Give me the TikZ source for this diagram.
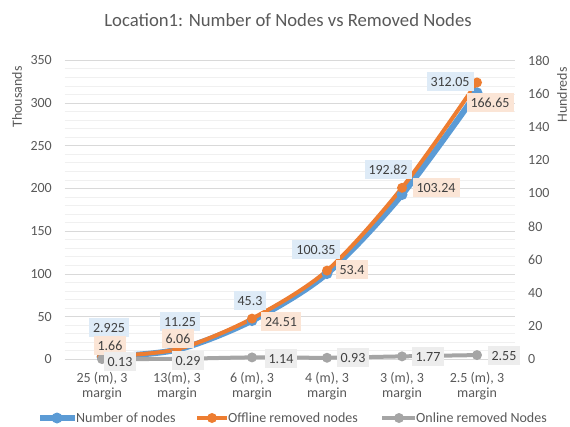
\documentclass[tikz,border=0pt]{standalone}
\usepackage{fontspec}
\setmainfont{Carlito}
\definecolor{serB}{HTML}{5B9BD5}
\definecolor{serO}{HTML}{ED7D31}
\definecolor{serG}{HTML}{A5A5A5}
\definecolor{bgB}{HTML}{DEEBF7}
\definecolor{bgO}{HTML}{FBE5D6}
\definecolor{bgG}{HTML}{EDEDED}
\definecolor{txt}{HTML}{595959}
\definecolor{txtd}{HTML}{404040}
\definecolor{gmaj}{HTML}{D9D9D9}
\definecolor{gmin}{HTML}{F0F0F0}
\tikzset{
  lab/.style={font=\fontsize{14bp}{16bp}\selectfont, text=txtd, inner xsep=4bp, inner ysep=4.5bp, text height=10bp, text depth=0bp},
  labB/.style={lab, fill=bgB},
  labO/.style={lab, fill=bgO},
  labG/.style={lab, fill=bgG},
  tick/.style={font=\fontsize{14bp}{16bp}\selectfont, text=txt, inner sep=0bp},
  mkB/.style={circle, fill=serB, inner sep=0bp, minimum size=11bp},
  mkO/.style={circle, fill=serO, inner sep=0bp, minimum size=10bp},
  mkG/.style={circle, fill=serG, inner sep=0bp, minimum size=10bp},
}
\begin{document}
\begin{tikzpicture}[x=1bp, y=-1bp,
  declare function={yl(\v)=359.3-0.8543*\v; yr(\v)=359.3-1.6611*\v;}]
\useasboundingbox (0,0) rectangle (570,426);
% minor gridlines
\foreach \v in {10,20,...,340} {
  \draw[gmin, line width=0.75bp] (64.5,{yl(\v)}) -- (514.5,{yl(\v)});
}
% major gridlines
\foreach \v in {50,100,...,350} {
  \draw[gmaj, line width=0.75bp] (64.5,{yl(\v)}) -- (514.5,{yl(\v)});
}
\draw[gmaj, line width=1bp] (64.5,{yl(0)}) -- (514.5,{yl(0)});
% left ticks
\foreach \v in {0,50,...,350} {
  \node[tick, anchor=east] (tl\v) at (52,{yl(\v)}) {\v};
}
% right ticks
\foreach \v in {0,20,...,180} {
  \node[tick, anchor=west] (tr\v) at (528,{yr(\v)}) {\v};
}
% axis titles
\node[tick, rotate=90] (tTh) at (17,97) {Thousands};
\node[tick, rotate=90] (tHu) at (562,95) {Hundreds};
% title
\node[font=\fontsize{18.7bp}{20bp}\selectfont, text=txt, anchor=base] (title) at (288,26) {Location1: Number of Nodes vs Removed Nodes};
% categories
\foreach \i/\c in {0/25 (m){,} 3, 1/13(m){,} 3, 2/6 (m){,} 3, 3/4 (m){,} 3, 4/3 (m){,} 3, 5/2.5 (m){,} 3} {
  \node[tick, anchor=base] (c\i) at ({102+75*\i},382.5) {\c};
  \node[tick, anchor=base] (m\i) at ({102+75*\i},397.5) {margin};
}
% data coordinates
\foreach \i/\b/\o/\g in {0/2.925/1.66/0.13, 1/11.25/6.06/0.29, 2/45.3/24.51/1.14, 3/100.35/53.4/0.93, 4/192.82/103.24/1.77, 5/312.05/166.65/2.55} {
  \coordinate (b\i) at ({102+75*\i},{yl(\b)});
  \coordinate (o\i) at ({102+75*\i},{yr(\o)});
  \coordinate (g\i) at ({102+75*\i},{yr(\g)});
}
% series lines
\draw[serB, line width=6bp, line cap=round, line join=round] plot[smooth, tension=0.5] coordinates {(b0) (b1) (b2) (b3) (b4) (b5)};
\draw[serO, line width=4bp, line cap=round, line join=round] plot[smooth, tension=0.5] coordinates {(o0) (o1) (o2) (o3) (o4) (o5)};
\draw[serG, line width=4bp, line cap=round, line join=round] plot[smooth, tension=0.5] coordinates {(g0) (g1) (g2) (g3) (g4) (g5)};
% markers
\foreach \i in {0,...,5} {
  \node[mkB] (mb\i) at (b\i) {};
}
\foreach \i in {0,...,5} {
  \node[mkO] (mo\i) at (o\i) {};
}
\foreach \i in {0,...,5} {
  \node[mkG] (mg\i) at (g\i) {};
}
% data labels
\node[labB] (lb0) at (109,327) {2.925};
\node[labB] (lb1) at (180,321) {11.25};
\node[labB] (lb2) at (250,300) {45.3};
\node[labB] (lb3) at (316,249) {100.35};
\node[labB] (lb4) at (388,169) {192.82};
\node[labB] (lb5) at (450,81) {312.05};
\node[labO] (lo0) at (110,345) {1.66};
\node[labO] (lo1) at (178,338) {6.06};
\node[labO] (lo2) at (281,321) {24.51};
\node[labO] (lo3) at (352,269) {53.4};
\node[labO] (lo4) at (436,187) {103.24};
\node[labO] (lo5) at (490,102) {166.65};
\node[labG] (lg0) at (120,361) {0.13};
\node[labG] (lg1) at (188,360) {0.29};
\node[labG] (lg2) at (281,358) {1.14};
\node[labG] (lg3) at (353,357) {0.93};
\node[labG] (lg4) at (428,356) {1.77};
\node[labG] (lg5) at (504,355) {2.55};
% legend
\coordinate (lbA) at (40,418); \coordinate (lbZ) at (75,418);
\draw[serB, line width=6bp] (lbA) -- (lbZ);
\node[mkB] (lbM) at (57,418) {};
\node[tick, anchor=west] (lbT) at (76,418) {Number of nodes};
\coordinate (loA) at (197,418); \coordinate (loZ) at (227,418);
\draw[serO, line width=4bp] (loA) -- (loZ);
\node[mkO] (loM) at (212,418) {};
\node[tick, anchor=west] (loT) at (228,418) {Offline removed nodes};
\coordinate (lgA) at (382,418); \coordinate (lgZ) at (415,418);
\draw[serG, line width=4bp] (lgA) -- (lgZ);
\node[mkG] (lgM) at (399,418) {};
\node[tick, anchor=west] (lgT) at (416,418) {Online removed Nodes};
\end{tikzpicture}
\end{document}
